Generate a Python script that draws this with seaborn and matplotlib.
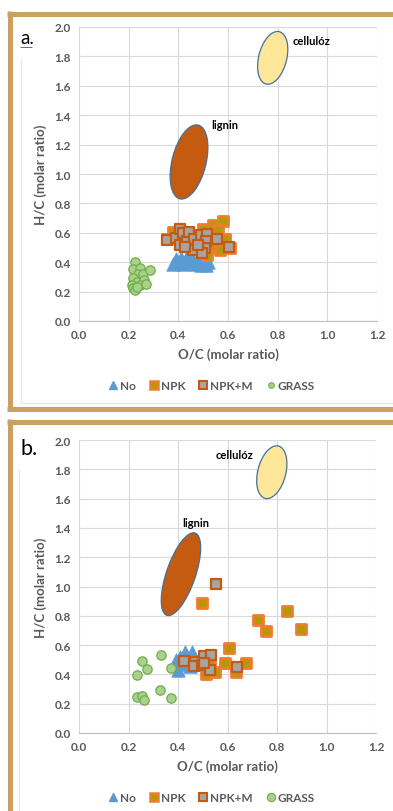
import matplotlib
matplotlib.use("Agg")
import numpy as np
import pandas as pd
import matplotlib.pyplot as plt
import seaborn as sns
from matplotlib.patches import Ellipse
from matplotlib.lines import Line2D
from matplotlib.transforms import ScaledTranslation

# ---- data (O/C, H/C molar ratios) ----
# panel a
a_no_oc = [0.38, 0.40, 0.41, 0.42, 0.43, 0.44, 0.45, 0.46, 0.47, 0.48, 0.49, 0.50, 0.51, 0.52, 0.39, 0.44, 0.50]
a_no_hc = [0.39, 0.40, 0.43, 0.39, 0.42, 0.40, 0.44, 0.41, 0.39, 0.43, 0.38, 0.40, 0.38, 0.40, 0.42, 0.45, 0.44]
a_npk_oc = [0.541, 0.581, 0.561, 0.588, 0.548, 0.568, 0.608, 0.514, 0.487, 0.528, 0.38, 0.353, 0.434, 0.50]
a_npk_hc = [0.651, 0.678, 0.617, 0.56, 0.503, 0.48, 0.497, 0.447, 0.503, 0.56, 0.605, 0.56, 0.605, 0.628]
a_npkm_oc = [0.353, 0.389, 0.407, 0.418, 0.407, 0.434, 0.444, 0.464, 0.46, 0.491, 0.517, 0.511, 0.507, 0.494, 0.557, 0.605, 0.427, 0.478]
a_npkm_hc = [0.549, 0.567, 0.628, 0.599, 0.519, 0.542, 0.605, 0.56, 0.481, 0.587, 0.594, 0.542, 0.497, 0.465, 0.56, 0.503, 0.503, 0.519]
a_grass_oc = [0.225, 0.219, 0.246, 0.239, 0.259, 0.286, 0.216, 0.232, 0.262, 0.212, 0.246, 0.268, 0.216, 0.225, 0.232]
a_grass_hc = [0.40, 0.356, 0.36, 0.32, 0.32, 0.345, 0.29, 0.265, 0.277, 0.243, 0.243, 0.254, 0.225, 0.21, 0.23]

# panel b
b_no_oc = [0.40, 0.41, 0.43, 0.455, 0.47, 0.48, 0.42, 0.45, 0.39, 0.44]
b_no_hc = [0.43, 0.52, 0.55, 0.55, 0.50, 0.47, 0.47, 0.46, 0.50, 0.51]
b_npk_oc = [0.498, 0.725, 0.754, 0.842, 0.896, 0.605, 0.59, 0.673, 0.636, 0.549, 0.515, 0.509, 0.529]
b_npk_hc = [0.886, 0.773, 0.698, 0.836, 0.707, 0.58, 0.477, 0.475, 0.414, 0.414, 0.402, 0.516, 0.482]
b_npkm_oc = [0.552, 0.425, 0.468, 0.466, 0.498, 0.507, 0.532, 0.529, 0.637, 0.505]
b_npkm_hc = [1.014, 0.493, 0.482, 0.455, 0.464, 0.523, 0.532, 0.43, 0.448, 0.48]
b_grass_oc = [0.256, 0.33, 0.273, 0.236, 0.371, 0.235, 0.256, 0.262, 0.327, 0.372]
b_grass_hc = [0.493, 0.534, 0.436, 0.395, 0.441, 0.243, 0.255, 0.227, 0.295, 0.241]

# reference regions: centre O/C, centre H/C
a_cell_center = (0.78, 1.79)
a_lig_center = (0.443, 1.082)
b_cell_center = (0.779, 1.78)
b_lig_center = (0.412, 1.084)
a_labels = {"cellulóz": (0.862, 1.905), "lignin": (0.532, 1.335)}
b_labels = {"cellulóz": (0.55, 1.90), "lignin": (0.416, 1.44)}

xticks = [0.0, 0.2, 0.4, 0.6, 0.8, 1.0, 1.2]
yticks = [0.0, 0.2, 0.4, 0.6, 0.8, 1.0, 1.2, 1.4, 1.6, 1.8, 2.0]

sns.set_style("white")
plt.rcParams['font.family'] = ['Lato', 'DejaVu Sans']

W, H = 393, 812
fig = plt.figure(figsize=(W / 100, H / 100), dpi=100)
fig.patch.set_facecolor("white")

TAN = "#C9A066"
GREY = "#595959"
BLUE = "#5B9BD5"
ORANGE = "#ED7D31"
OLIVE = "#B49A00"
DARKOR = "#C55A11"
LGREEN = "#A9D18E"
GREEN = "#70AD47"


def fx(px):
    return px / W


def fy(py):
    return 1 - py / H


# frames around the two panels
def hline(x0, x1, y, color, lw):
    fig.add_artist(Line2D([fx(x0), fx(x1)], [fy(y), fy(y)], color=color, lw=lw,
                          solid_capstyle="butt", transform=fig.transFigure))


def vline(x, y0, y1, color, lw):
    fig.add_artist(Line2D([fx(x), fx(x)], [fy(y0), fy(y1)], color=color, lw=lw,
                          solid_capstyle="butt", transform=fig.transFigure))


# faint page lines
vline(21, 60, 404, "#E6E6E6", 0.8)
hline(21, 393, 404, "#E6E6E6", 0.8)
vline(19, 470, 812, "#E3E3E3", 0.8)

TW = 3.6
hline(7, 400, 14.5, TAN, TW)
vline(9.5, 12, 412, TAN, TW)
hline(7, 400, 409.5, TAN, TW)
hline(7, 400, 422.5, TAN, TW)
vline(9.5, 420, 815, TAN, TW)


def draw_region(ax, center, major, minor, angle, color):
    tr = fig.dpi_scale_trans + ScaledTranslation(center[0], center[1], ax.transData)
    e = Ellipse((0, 0), major / 100, minor / 100, angle=angle, transform=tr,
                facecolor=color, edgecolor="#41719C", lw=0.9, zorder=4)
    ax.add_artist(e)


def panel(rect, no, npk, npkm, grass, cell_c, lig_c, labels, lig_shape):
    ax = fig.add_axes(rect)
    df_no = pd.DataFrame({"oc": no[0], "hc": no[1]})
    df_npk = pd.DataFrame({"oc": npk[0], "hc": npk[1]})
    df_npkm = pd.DataFrame({"oc": npkm[0], "hc": npkm[1]})
    df_grass = pd.DataFrame({"oc": grass[0], "hc": grass[1]})
    sns.scatterplot(data=df_no, x="oc", y="hc", marker="^", s=95, color=BLUE,
                    edgecolor=BLUE, linewidth=0.5, ax=ax, zorder=3)
    sns.scatterplot(data=df_npk, x="oc", y="hc", marker="s", s=42, color=OLIVE,
                    edgecolor=ORANGE, linewidth=2.0, ax=ax, zorder=3)
    sns.scatterplot(data=df_npkm, x="oc", y="hc", marker="s", s=42, color="#A5A5A5",
                    edgecolor=DARKOR, linewidth=1.6, ax=ax, zorder=3)
    sns.scatterplot(data=df_grass, x="oc", y="hc", marker="o", s=45, color=LGREEN,
                    edgecolor=GREEN, linewidth=0.9, ax=ax, zorder=3)

    draw_region(ax, cell_c, 54, 28, 75.7, "#FFE699")
    draw_region(ax, lig_c, lig_shape[0], lig_shape[1], lig_shape[2], DARKOR)
    for name, (x, y) in labels.items():
        ax.text(x, y, name, fontsize=8, fontweight="bold", color="black",
                ha="left", va="center", zorder=5)

    ax.set_xlim(0, 1.2)
    ax.set_ylim(0, 2.0)
    ax.set_xticks(xticks)
    ax.set_yticks(yticks)
    ax.set_xticklabels([f"{v:.1f}" for v in xticks])
    ax.set_yticklabels([f"{v:.1f}" for v in yticks])
    ax.tick_params(length=0, labelsize=8.5, colors=GREY, pad=6)
    for lab in ax.get_xticklabels() + ax.get_yticklabels():
        lab.set_fontweight("bold")
    ax.grid(True, color="#D9D9D9", lw=0.8, zorder=0)
    ax.set_axisbelow(True)
    for s in ["top", "right", "left"]:
        ax.spines[s].set_visible(False)
    ax.spines["bottom"].set_color("#BFBFBF")
    ax.spines["bottom"].set_linewidth(0.8)
    ax.set_xlabel("O/C (molar ratio)", fontsize=9.5, fontweight="bold", color=GREY, labelpad=5)
    ax.set_ylabel("H/C (molar ratio)", fontsize=9.5, fontweight="bold", color=GREY, labelpad=5)
    return ax


ax_a = panel([fx(79), fy(322), fx(377) - fx(79), fy(28) - fy(322)],
             (a_no_oc, a_no_hc), (a_npk_oc, a_npk_hc), (a_npkm_oc, a_npkm_hc),
             (a_grass_oc, a_grass_hc), a_cell_center, a_lig_center, a_labels, (76, 34, 76))
ax_b = panel([fx(79), fy(734), fx(376) - fx(79), fy(441) - fy(734)],
             (b_no_oc, b_no_hc), (b_npk_oc, b_npk_hc), (b_npkm_oc, b_npkm_hc),
             (b_grass_oc, b_grass_hc), b_cell_center, b_lig_center, b_labels, (87, 29, 71))

# legends
def legend_handles(circle_ms):
    return [
        Line2D([], [], ls="", marker="^", ms=5.5, color=BLUE, mec=BLUE),
        Line2D([], [], ls="", marker="s", ms=6, mfc=OLIVE, mec=ORANGE, mew=1.8),
        Line2D([], [], ls="", marker="s", ms=6, mfc="#A5A5A5", mec=DARKOR, mew=1.5),
        Line2D([], [], ls="", marker="o", ms=circle_ms, mfc=LGREEN, mec=GREEN, mew=0.8),
    ]

names = ["No", "NPK", "NPK+M", "GRASS"]
for y, cms in [(387, 4), (799, 6)]:
    leg = fig.legend(legend_handles(cms), names, loc="center", bbox_to_anchor=(fx(211), fy(y)),
                     ncol=4, frameon=False, handletextpad=0.1, columnspacing=1.0,
                     handlelength=1.0, prop={"size": 8.5, "weight": "bold"})
    for t in leg.get_texts():
        t.set_color(GREY)

# panel letters
fig.text(fx(20), fy(39), "a.", fontsize=13.5, color="black", va="center", ha="left")
fig.text(fx(21), fy(449), "b.", fontsize=15.5, color="black", va="center", ha="left")
hline(20, 32, 48, "#4472C4", 0.7)

fig.savefig("out.png", dpi=100)
